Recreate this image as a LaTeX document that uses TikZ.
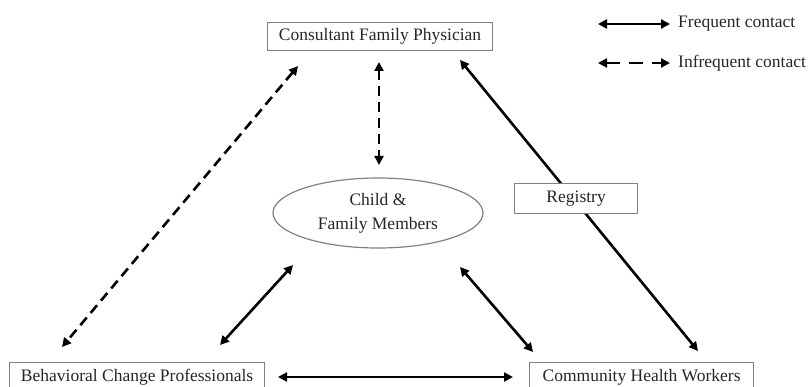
\documentclass[tikz,border=0pt]{standalone}
\usepackage{fontspec}
\setmainfont{Liberation Serif}
\usetikzlibrary{arrows.meta,shapes.geometric}
\begin{document}
\begin{tikzpicture}[x=1pt,y=-1pt,
  lbl/.style={font=\fontsize{17.5}{24}\selectfont, text=black!85},
  box/.style={lbl, draw=black!50, fill=white, line width=1.2pt, rectangle, inner sep=0pt, anchor=north west, align=center},
  conn/.style={line width=2.6pt, black, {Triangle[length=9pt,width=9pt]}-{Triangle[length=9pt,width=9pt]}},
  dconn/.style={conn, dash pattern=on 10pt off 6pt},
]
\useasboundingbox (0,0) rectangle (810,387);
% connector end points
\coordinate (a1) at (379,62);  \coordinate (a2) at (379,165);
\coordinate (b1) at (298,66);  \coordinate (b2) at (62,347);
\coordinate (c1) at (460,60);  \coordinate (c2) at (698,351);
\coordinate (d1) at (293,265); \coordinate (d2) at (220,345);
\coordinate (e1) at (460,267); \coordinate (e2) at (533,352);
\coordinate (f1) at (278,377); \coordinate (f2) at (513,377);
\draw[dconn] (a1) -- (a2);
\draw[dconn] (b1) -- (b2);
\draw[conn] (c1) -- (c2);
\draw[conn] (d1) -- (d2);
\draw[conn] (e1) -- (e2);
\draw[conn] (f1) -- (f2);
% boxes
\node[box, minimum width=225pt, minimum height=28pt] (cfp) at (267,22) {Consultant Family Physician};
\node[box, minimum width=123pt, minimum height=30pt] (reg) at (514,183) {Registry};
\node[box, minimum width=255pt, minimum height=30pt] (bcp) at (9,362) {Behavioral Change Professionals};
\node[box, minimum width=224pt, minimum height=30pt] (chw) at (529,362) {Community Health Workers};
\node[lbl, draw=black!50, line width=1.2pt, ellipse, minimum width=210pt, minimum height=70pt, inner sep=0pt, align=center] (fam) at (378,213) {Child \&\\Family Members};
% legend
\coordinate (l1) at (598,24); \coordinate (l2) at (670,24);
\coordinate (l3) at (598,63); \coordinate (l4) at (670,63);
\draw[conn] (l1) -- (l2);
\draw[conn, dash pattern=on 14pt off 9pt] (l3) -- (l4);
\node[lbl, anchor=west, inner sep=0pt] (lt1) at (678,24) {Frequent contact};
\node[lbl, anchor=west, inner sep=0pt] (lt2) at (678,63) {Infrequent contact};
\end{tikzpicture}
\end{document}
